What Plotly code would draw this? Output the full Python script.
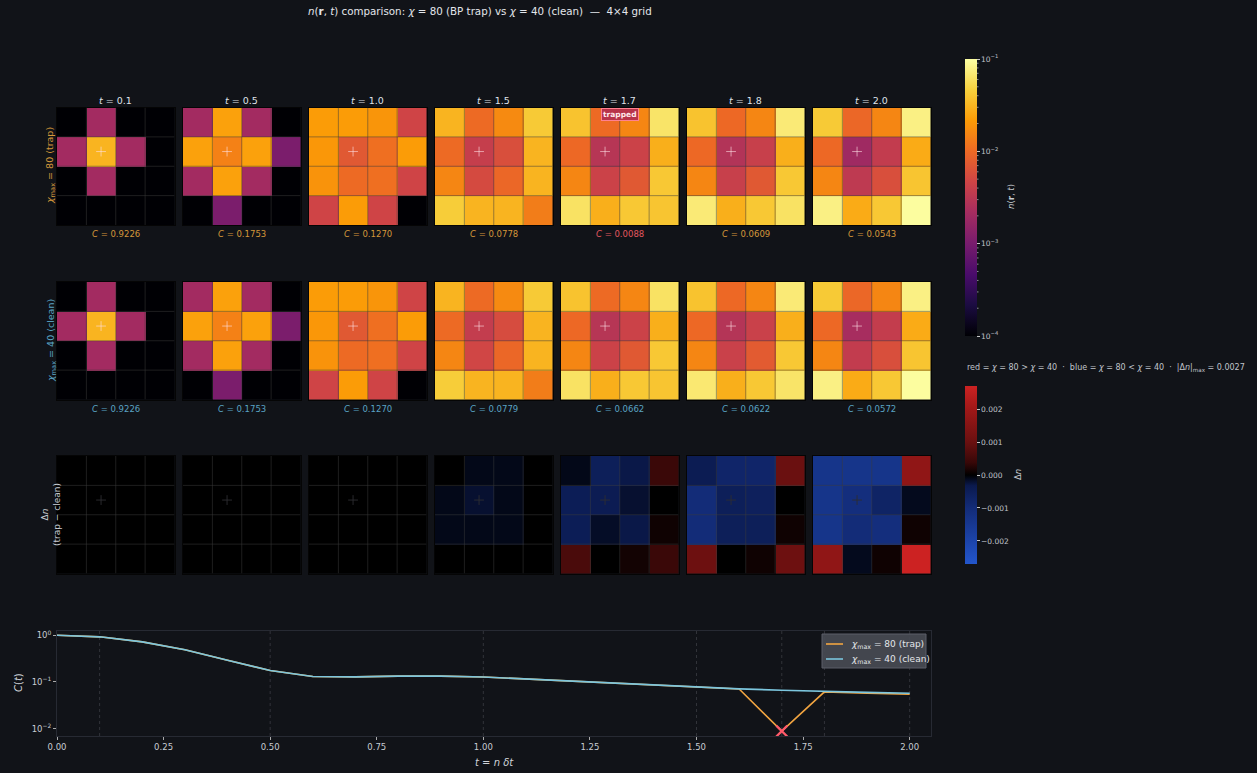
import numpy as np
import plotly.graph_objects as go

W, H = 1257, 773
BG = "#111318"
FONT = "DejaVu Sans"

# ---------------------------------------------------------------- data
snap_t = [0.1, 0.5, 1.0, 1.5, 1.7, 1.8, 2.0]
C_trap_snap = [0.9226, 0.1753, 0.1270, 0.0778, 0.0088, 0.0609, 0.0543]
C_clean_snap = [0.9226, 0.1753, 0.1270, 0.0779, 0.0662, 0.0622, 0.0572]

t_full = [0.0, 0.1, 0.2, 0.3, 0.4, 0.5, 0.6, 0.7, 0.8, 0.9, 1.0,
          1.1, 1.2, 1.3, 1.4, 1.5, 1.6, 1.7, 1.8, 1.9, 2.0]
C_clean = [1.0, 0.9226, 0.72, 0.49, 0.29, 0.1753, 0.130, 0.128, 0.133, 0.133, 0.1270,
           0.115, 0.104, 0.095, 0.086, 0.0779, 0.0708, 0.0662, 0.0622, 0.0595, 0.0572]
C_trap = [1.0, 0.9226, 0.72, 0.49, 0.29, 0.1753, 0.130, 0.128, 0.133, 0.133, 0.1270,
          0.115, 0.104, 0.095, 0.086, 0.0778, 0.0705, 0.0088, 0.0609, 0.0575, 0.0543]

LO = 3e-5  # empty sites (below the colour floor)

n_trap = [
    [[LO, 0.00209, LO, LO], [0.00209, 0.0309, 0.00209, LO],
     [LO, 0.00209, LO, LO], [LO, LO, LO, LO]],
    [[0.00209, 0.0234, 0.00209, LO], [0.0234, 0.0145, 0.0234, 0.00105],
     [0.00209, 0.0234, 0.00209, LO], [LO, 0.00105, LO, LO]],
    [[0.0219, 0.0219, 0.0197, 0.00462], [0.0204, 0.00724, 0.0110, 0.0219],
     [0.0191, 0.0102, 0.0110, 0.00462], [0.00462, 0.0219, 0.00462, LO]],
    [[0.0309, 0.0102, 0.0166, 0.0422], [0.0102, 0.00389, 0.00589, 0.0309],
     [0.0155, 0.00531, 0.00955, 0.0309], [0.0437, 0.0309, 0.0309, 0.0135]],
    [[0.0380, 0.0102, 0.0155, 0.0638], [0.00989, 0.00295, 0.00432, 0.0288],
     [0.0155, 0.00432, 0.00724, 0.0407], [0.0617, 0.0288, 0.0407, 0.0394]],
    [[0.0380, 0.00989, 0.0155, 0.0708], [0.00989, 0.00275, 0.00403, 0.0288],
     [0.0155, 0.00403, 0.00724, 0.0407], [0.0708, 0.0288, 0.0407, 0.0617]],
    [[0.0422, 0.00955, 0.0155, 0.0785], [0.00989, 0.00195, 0.00363, 0.0269],
     [0.0155, 0.00339, 0.00589, 0.0394], [0.0785, 0.0269, 0.0407, 0.0966]],
]

n_clean = [
    [[LO, 0.00209, LO, LO], [0.00209, 0.0309, 0.00209, LO],
     [LO, 0.00209, LO, LO], [LO, LO, LO, LO]],
    [[0.00209, 0.0234, 0.00209, LO], [0.0234, 0.0145, 0.0234, 0.00105],
     [0.00209, 0.0234, 0.00209, LO], [LO, 0.00105, LO, LO]],
    [[0.0219, 0.0219, 0.0197, 0.00462], [0.0204, 0.00724, 0.0110, 0.0219],
     [0.0191, 0.0102, 0.0110, 0.00462], [0.00462, 0.0219, 0.00462, LO]],
    [[0.0309, 0.0102, 0.0166, 0.0422], [0.0102, 0.00370, 0.00550, 0.0309],
     [0.0155, 0.00479, 0.00955, 0.0309], [0.0437, 0.0309, 0.0309, 0.0135]],
    [[0.0380, 0.0102, 0.0155, 0.0617], [0.00989, 0.00295, 0.00432, 0.0288],
     [0.0155, 0.00432, 0.00724, 0.0407], [0.0617, 0.0288, 0.0407, 0.0394]],
    [[0.0380, 0.00989, 0.0155, 0.0708], [0.00989, 0.00285, 0.00417, 0.0288],
     [0.0155, 0.00417, 0.00750, 0.0407], [0.0684, 0.0288, 0.0407, 0.0638]],
    [[0.0422, 0.00955, 0.0155, 0.0785], [0.00989, 0.00224, 0.00376, 0.0269],
     [0.0155, 0.00363, 0.00589, 0.0394], [0.0785, 0.0269, 0.0407, 0.0966]],
]

dn = [
    [[0, 0, 0, 0], [0, 0, 0, 0], [0, 0, 0, 0], [0, 0, 0, 0]],
    [[0, 0, 0, 0], [0, 0, 0, 0], [0, 0, 0, 0], [0, 0, 0, 0]],
    [[0, 0, 0, 0], [0, 0, 0, 0], [0, 0, 0, 0], [0, 0, 0, 0]],
    [[0, -0.0001, -0.0001, 0], [-0.0001, -0.0002, -0.0001, 0],
     [-0.0001, -0.0001, -0.0001, 0], [0, 0, 0, 0]],
    [[-0.0001, -0.0005, -0.0003, 0.0004], [-0.00045, -0.0004, -0.0002, 0],
     [-0.00045, -0.00016, -0.0003, 0.0001], [0.0006, 0, 0.00013, 0.0004]],
    [[-0.0004, -0.00075, -0.00075, 0.0010], [-0.0010, -0.0005, -0.00055, 0],
     [-0.0010, -0.0005, -0.0005, 0.0001], [0.00105, 0, 0.0001, 0.00105]],
    [[-0.00136, -0.00136, -0.00136, 0.0017], [-0.00136, -0.0011, -0.0007, -0.00012],
     [-0.00136, -0.0010, -0.0011, 0.0001], [0.0017, -0.00012, 0.0001, 0.0027]],
]
dn_max = 0.0027
trapped_t = 1.7

# ---------------------------------------------------------------- geometry helpers
def fx(px):
    return px / W


def fy(py):
    return 1 - py / H


col_left = [57, 183, 309, 435, 561, 687, 813]
panel_w = 117.5
row_top = [107.5, 282, 456]
panel_h = 117.5

TRAP_COL = "#f2a541"
CLEAN_COL = "#7cc6de"
TRAP_TXT = "#d4973a"
CLEAN_TXT = "#5aa3c4"
ALERT_TXT = "#e2575f"

dn_scale = [
    [0.0, "#2356cc"], [0.13, "#1c44aa"], [0.315, "#132c78"], [0.44, "#0b1a4e"],
    [0.5, "#000000"],
    [0.57, "#380808"], [0.685, "#6a1010"], [0.87, "#a01818"], [1.0, "#cc2222"],
]

fig = go.Figure()
layout = {}
shapes = []
annotations = []


def ann(text, x, y, size=9, color="#cfd3da", angle=0, xanchor="center",
        yanchor="middle", **kw):
    annotations.append(dict(text=text, x=fx(x), y=fy(y), xref="paper", yref="paper",
                            showarrow=False, textangle=angle, xanchor=xanchor,
                            yanchor=yanchor, font=dict(size=size, color=color, family=FONT),
                            **kw))


k = 0
for r in range(3):
    for c in range(7):
        k += 1
        xa, ya = f"x{k}", f"y{k}"
        x0 = col_left[c]
        y0 = row_top[r]
        layout[f"xaxis{k}"] = dict(domain=[fx(x0), fx(x0 + panel_w)], range=[-0.5, 3.5],
                                   anchor=ya, showgrid=False, zeroline=False,
                                   showticklabels=False, ticks="", showline=True,
                                   linecolor="#050505", linewidth=1, mirror=True,
                                   fixedrange=True)
        layout[f"yaxis{k}"] = dict(domain=[fy(y0 + panel_h), fy(y0)], range=[3.5, -0.5],
                                   anchor=xa, showgrid=False, zeroline=False,
                                   showticklabels=False, ticks="", showline=True,
                                   linecolor="#050505", linewidth=1, mirror=True,
                                   fixedrange=True)
        if r < 2:
            grid = n_trap[c] if r == 0 else n_clean[c]
            fig.add_trace(go.Heatmap(z=np.log10(np.array(grid, dtype=float)),
                                     x=[0, 1, 2, 3], y=[0, 1, 2, 3],
                                     coloraxis="coloraxis", xaxis=xa, yaxis=ya,
                                     hoverinfo="skip"))
            plus_col = "rgba(255,225,230,0.6)"
        else:
            fig.add_trace(go.Heatmap(z=np.array(dn[c], dtype=float),
                                     x=[0, 1, 2, 3], y=[0, 1, 2, 3],
                                     coloraxis="coloraxis2", xaxis=xa, yaxis=ya,
                                     hoverinfo="skip"))
            plus_col = "rgba(45,45,50,0.9)"
        # cell boundaries
        for b in (0.5, 1.5, 2.5):
            shapes.append(dict(type="line", xref=xa, yref=ya, x0=b, x1=b, y0=-0.5, y1=3.5,
                               line=dict(color="rgba(60,60,60,0.5)", width=1)))
            shapes.append(dict(type="line", xref=xa, yref=ya, y0=b, y1=b, x0=-0.5, x1=3.5,
                               line=dict(color="rgba(60,60,60,0.5)", width=1)))
        # centre site marker
        fig.add_trace(go.Scatter(x=[1], y=[1], xaxis=xa, yaxis=ya, mode="markers",
                                 marker=dict(symbol="cross-thin", size=7,
                                             line=dict(width=1, color=plus_col)),
                                 hoverinfo="skip", showlegend=False))

        cx = x0 + panel_w / 2
        if r == 0:
            ann(f"<i>t</i> = {snap_t[c]:.1f}", cx, 101, size=9.5, color="#dfe2e8")
            col = ALERT_TXT if snap_t[c] == trapped_t else TRAP_TXT
            ann(f"<i>C</i> = {C_trap_snap[c]:.4f}", cx, 234, size=8.5, color=col)
            if snap_t[c] == trapped_t:
                ann("<b>trapped</b>", cx, 115, size=7.5, color="#ffe8ea",
                    bgcolor="#b8344a", bordercolor="#ff8090", borderwidth=1, borderpad=1)
        elif r == 1:
            ann(f"<i>C</i> = {C_clean_snap[c]:.4f}", cx, 409, size=8.5, color=CLEAN_TXT)

# row labels
ann("<i>χ</i><sub>max</sub> = 80 (trap)", 51, 166, size=9.5, color=TRAP_TXT, angle=-90)
ann("<i>χ</i><sub>max</sub> = 40 (clean)", 51, 341, size=9.5, color=CLEAN_TXT, angle=-90)
ann("Δ<i>n</i><br>(trap − clean)", 51, 515, size=9, color="#c8ccd3", angle=-90)

# title
ann("<i>n</i>(<b>r</b>, <i>t</i>) comparison: <i>χ</i> = 80 (BP trap) vs <i>χ</i> = 40 (clean)  —  4×4 grid",
    480, 11, size=10.3, color="#e3e6eb")

# colour bars
cb1_top, cb1_bot = 59, 336
cb2_top, cb2_bot = 386, 563.5
cbar_x = 964.5
layout["coloraxis"] = dict(
    cmin=-4, cmax=-1, colorscale="Inferno",
    colorbar=dict(x=fx(cbar_x), xanchor="left", y=fy(cb1_top), yanchor="top",
                  len=(cb1_bot - cb1_top) / H, lenmode="fraction", thickness=12,
                  thicknessmode="pixels", outlinewidth=0, xpad=0, ypad=0,
                  tickvals=[-4, -3, -2, -1],
                  ticktext=["10<sup>−4</sup>", "10<sup>−3</sup>", "10<sup>−2</sup>", "10<sup>−1</sup>"],
                  ticks="outside", ticklen=3, tickwidth=1, tickcolor="#c8c8c8",
                  tickfont=dict(size=7.5, color="#c0c4cb", family=FONT)))
layout["coloraxis2"] = dict(
    cmin=-dn_max, cmax=dn_max, colorscale=dn_scale,
    colorbar=dict(x=fx(cbar_x), xanchor="left", y=fy(cb2_top), yanchor="top",
                  len=(cb2_bot - cb2_top) / H, lenmode="fraction", thickness=12,
                  thicknessmode="pixels", outlinewidth=0, xpad=0, ypad=0,
                  tickvals=[-0.002, -0.001, 0.0, 0.001, 0.002],
                  ticktext=["−0.002", "−0.001", "0.000", "0.001", "0.002"],
                  ticks="outside", ticklen=3, tickwidth=1, tickcolor="#c8c8c8",
                  tickfont=dict(size=7.5, color="#c0c4cb", family=FONT)))

# minor log ticks on the density colour bar
for dec in (-4, -3, -2):
    for m in range(2, 10):
        v = dec + np.log10(m)
        py = cb1_bot - (v + 4) / 3 * (cb1_bot - cb1_top)
        shapes.append(dict(type="line", xref="paper", yref="paper",
                           x0=fx(cbar_x + 12), x1=fx(cbar_x + 14), y0=fy(py), y1=fy(py),
                           line=dict(color="#8a8d94", width=1)))

ann("<i>n</i>(<b>r</b>, <i>t</i>)", 1011, 197, size=8.5, color="#c8ccd3", angle=-90)
ann("Δ<i>n</i>", 1018, 475, size=8.5, color="#c8ccd3", angle=-90)
ann("red = <i>χ</i> = 80 > <i>χ</i> = 40  ·  blue = <i>χ</i> = 80 < <i>χ</i> = 40  ·  "
    "|Δ<i>n</i>|<sub>max</sub> = 0.0027", 965, 368, size=8, color="#c0c4cb",
    xanchor="left")

# ---------------------------------------------------------------- C(t) panel
lx0, lx1, ly0, ly1 = 57, 931, 631, 736
layout["xaxis22"] = dict(domain=[fx(lx0), fx(lx1)], range=[0, 2.05], anchor="y22",
                         tickvals=[0, 0.25, 0.5, 0.75, 1.0, 1.25, 1.5, 1.75, 2.0],
                         ticktext=["0.00", "0.25", "0.50", "0.75", "1.00", "1.25",
                                   "1.50", "1.75", "2.00"],
                         ticks="outside", ticklen=3, tickcolor="#aaaaaa",
                         tickfont=dict(size=8.5, color="#c8ccd3", family=FONT),
                         showgrid=False, zeroline=False, showline=True,
                         linecolor="#272a33", mirror=True, fixedrange=True)
layout["yaxis22"] = dict(domain=[fy(ly1), fy(ly0)], type="log", range=[-2.16, 0.09],
                         anchor="x22", tickvals=[0.01, 0.1, 1.0],
                         ticktext=["10<sup>−2</sup>", "10<sup>−1</sup>", "10<sup>0</sup>"],
                         ticks="outside", ticklen=3, tickcolor="#aaaaaa",
                         tickfont=dict(size=8.5, color="#c8ccd3", family=FONT),
                         showgrid=False, zeroline=False, showline=True,
                         linecolor="#272a33", mirror=True, fixedrange=True)

for ts in snap_t:
    shapes.append(dict(type="line", xref="x22", yref="y22 domain", x0=ts, x1=ts, y0=0, y1=1,
                       line=dict(color="rgba(200,200,210,0.18)", width=1, dash="3px,3px"),
                       layer="below"))

fig.add_trace(go.Scatter(x=t_full, y=C_trap, xaxis="x22", yaxis="y22", mode="lines",
                         line=dict(color=TRAP_COL, width=1.6), showlegend=False,
                         name="trap"))
fig.add_trace(go.Scatter(x=t_full, y=C_clean, xaxis="x22", yaxis="y22", mode="lines",
                         line=dict(color=CLEAN_COL, width=1.6), showlegend=False,
                         name="clean"))
trap_idx = snap_t.index(trapped_t)
fig.add_trace(go.Scatter(x=[trapped_t], y=[C_trap_snap[trap_idx]], xaxis="x22", yaxis="y22",
                         mode="markers", showlegend=False,
                         marker=dict(symbol="x-thin", size=11,
                                     line=dict(width=2.2, color="#ff5a6a"))))

# legend box for the C(t) panel
lg_x0, lg_x1, lg_y0, lg_y1 = 822, 926, 634, 668
shapes.append(dict(type="rect", xref="paper", yref="paper",
                   x0=fx(lg_x0), x1=fx(lg_x1), y0=fy(lg_y1), y1=fy(lg_y0),
                   fillcolor="rgba(72,75,84,0.92)", line=dict(color="#5c5f68", width=1)))
for ly, col, label in ((644, TRAP_COL, "<i>χ</i><sub>max</sub> = 80 (trap)"),
                       (659, CLEAN_COL, "<i>χ</i><sub>max</sub> = 40 (clean)")):
    shapes.append(dict(type="line", xref="paper", yref="paper",
                       x0=fx(826), x1=fx(843), y0=fy(ly), y1=fy(ly),
                       line=dict(color=col, width=1.6)))
    ann(label, 849, ly, size=9, color="#e4e6ea", xanchor="left")

ann("<i>C</i>(<i>t</i>)", 18, 683, size=10, color="#d0d4da", angle=-90)
ann("<i>t</i> = <i>n</i> <i>δt</i>", 494, 762, size=10, color="#d0d4da")

fig.update_layout(
    width=W, height=H, margin=dict(l=0, r=0, t=0, b=0, autoexpand=False),
    paper_bgcolor=BG, plot_bgcolor=BG,
    font=dict(family=FONT, color="#cfd3da"),
    shapes=shapes, annotations=annotations, showlegend=False,
    **layout,
)

fig.write_html("out.html")
